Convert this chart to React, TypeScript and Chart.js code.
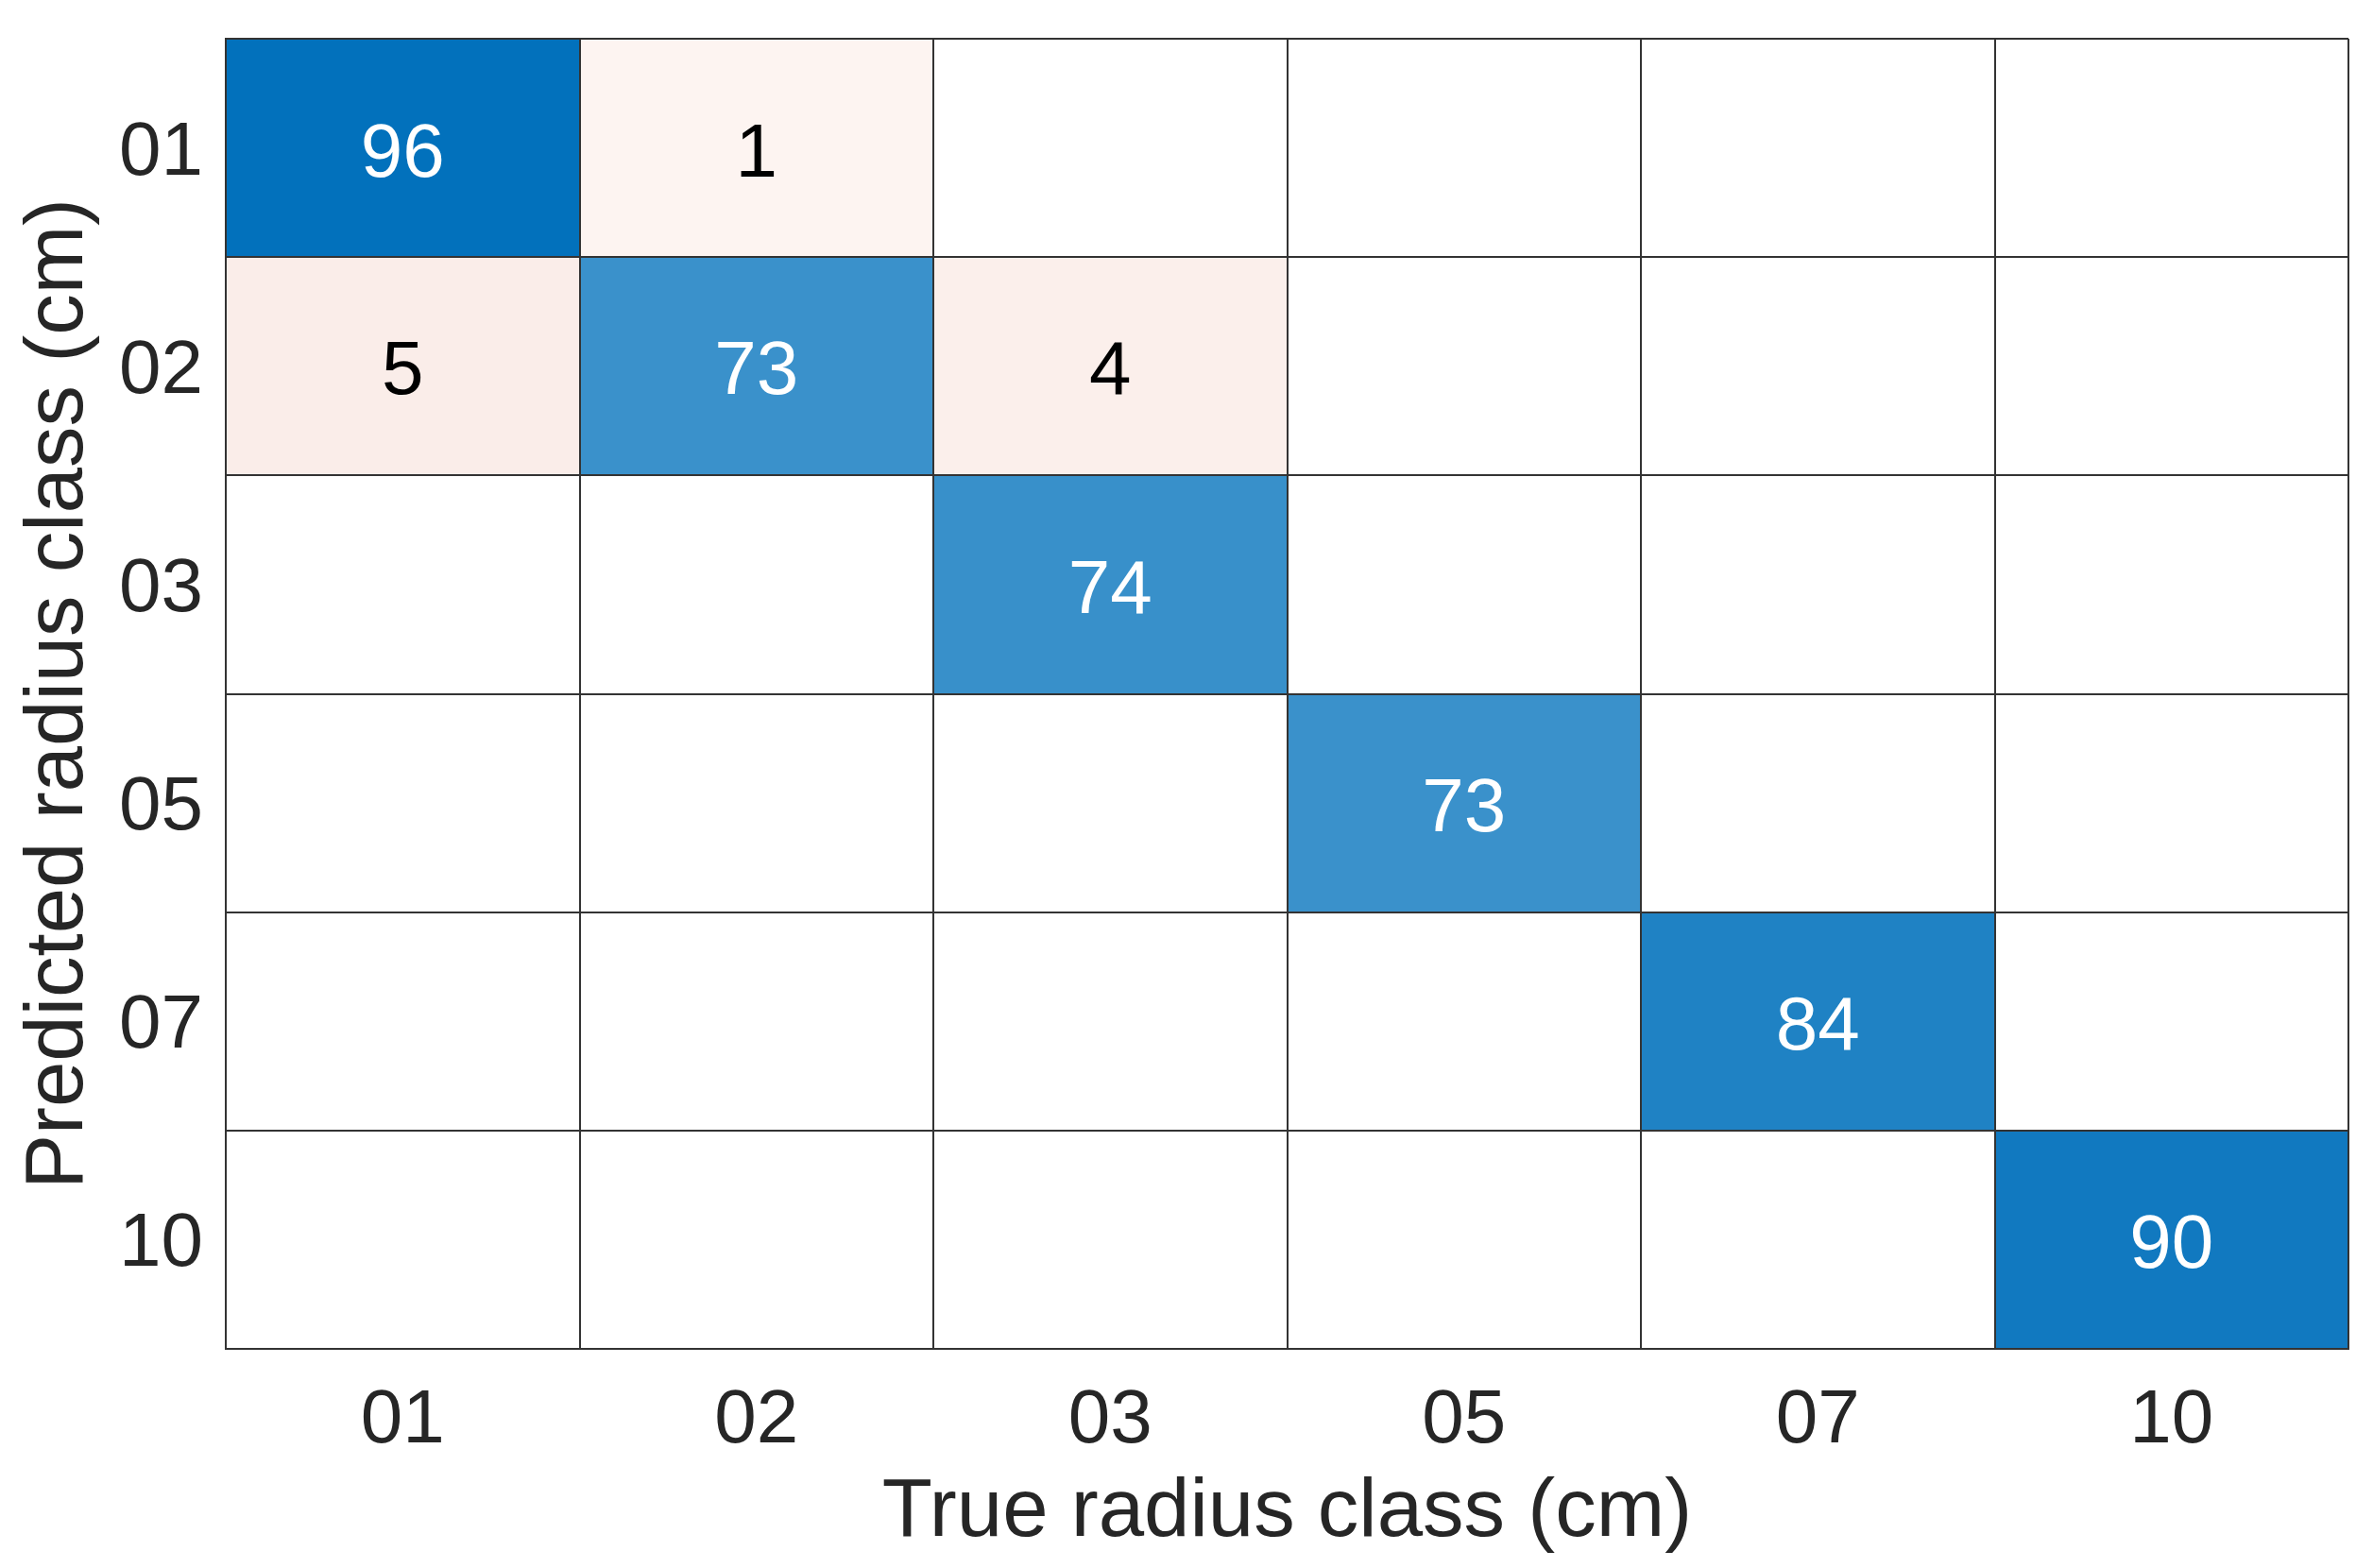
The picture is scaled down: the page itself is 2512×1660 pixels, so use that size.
import { useEffect, useRef } from "react";
import { Chart, registerables } from "chart.js";

Chart.register(...registerables);

const FONT = '"Liberation Sans", Arial, Helvetica, sans-serif';

// Categories
const trueLabels = ["01", "02", "03", "05", "07", "10"];
const predLabels = ["01", "02", "03", "05", "07", "10"];

// Confusion matrix rows (predicted class) x columns (true class)
const pred01 = [96, 1, 0, 0, 0, 0];
const pred02 = [5, 73, 4, 0, 0, 0];
const pred03 = [0, 0, 74, 0, 0, 0];
const pred05 = [0, 0, 0, 73, 0, 0];
const pred07 = [0, 0, 0, 0, 84, 0];
const pred10 = [0, 0, 0, 0, 0, 90];
const matrixRows = [pred01, pred02, pred03, pred05, pred07, pred10];

// Colour map stops: [value, r, g, b]
const colorStops: number[][] = [
  [1, 253, 244, 241],
  [5, 250, 237, 233],
  [73, 58, 145, 203],
  [96, 2, 113, 188],
];

function cellColor(v: number): string {
  if (v <= 0) return "#ffffff";
  if (v <= colorStops[0][0]) {
    const s = colorStops[0];
    return `rgb(${s[1]},${s[2]},${s[3]})`;
  }
  for (let i = 1; i < colorStops.length; i++) {
    const a = colorStops[i - 1];
    const b = colorStops[i];
    if (v <= b[0]) {
      const t = (v - a[0]) / (b[0] - a[0]);
      const c = [1, 2, 3].map((k) => Math.round(a[k] + (b[k] - a[k]) * t));
      return `rgb(${c[0]},${c[1]},${c[2]})`;
    }
  }
  const s = colorStops[colorStops.length - 1];
  return `rgb(${s[1]},${s[2]},${s[3]})`;
}

const ANN_SIZE = 80;
// small downward nudge (in rows) so the 'middle'-baseline row labels sit on the row centres
const ROW_LABEL_NUDGE = 0.026;

const cellText = {
  id: "cellText",
  afterDatasetsDraw(chart: any) {
    const ctx = chart.ctx;
    ctx.save();
    ctx.font = `${ANN_SIZE}px ${FONT}`;
    ctx.textAlign = "center";
    ctx.textBaseline = "alphabetic";
    chart.data.datasets.forEach((_ds: any, di: number) => {
      const meta = chart.getDatasetMeta(di);
      meta.data.forEach((bar: any, ci: number) => {
        const v = matrixRows[di][ci];
        if (!v) return;
        const { x, y, base } = bar.getProps(["x", "y", "base"], true);
        const cy = (y + base) / 2;
        ctx.fillStyle = v > 50 ? "#ffffff" : "#000000";
        ctx.fillText(String(v), x, cy + 0.358 * ANN_SIZE + 1);
      });
    });
    ctx.restore();
  },
};

function noPad(s: any) {
  s.paddingTop = 0;
  s.paddingBottom = 0;
  s.paddingLeft = 0;
  s.paddingRight = 0;
}

export default function App() {
  const ref = useRef<HTMLCanvasElement | null>(null);

  useEffect(() => {
    document.body.style.margin = "0";
    const canvas = ref.current;
    if (!canvas) return;

    const datasets = matrixRows.map((row, r) => ({
      label: predLabels[r],
      data: row.map(() => [r, r + 1]),
      backgroundColor: row.map((v) => cellColor(v)),
      borderWidth: 0,
      barPercentage: 1,
      categoryPercentage: 1,
      grouped: false,
    }));

    const chart = new Chart(canvas, {
      type: "bar",
      data: { labels: trueLabels, datasets: datasets as any },
      plugins: [cellText],
      options: {
        responsive: false,
        animation: false,
        events: [],
        layout: { padding: { top: 41, right: 26, left: 0, bottom: 0 } },
        plugins: {
          legend: { display: false },
          tooltip: { enabled: false },
        },
        scales: {
          x: {
            type: "category",
            offset: true,
            grid: { offset: true, color: "#333333", lineWidth: 2, drawTicks: false, z: 1 },
            border: { display: true, color: "#333333", width: 2, z: 1 },
            ticks: {
              font: { size: 80, family: FONT },
              color: "#262626",
              padding: 29,
              maxRotation: 0,
              autoSkip: false,
            },
            title: {
              display: true,
              text: "True radius class (cm)",
              font: { size: 87, family: FONT },
              color: "#262626",
              padding: { top: 0, bottom: 6 },
            },
            afterFit: (s: any) => {
              s.height = 1660 - 1428;
              noPad(s);
            },
          },
          y: {
            type: "linear",
            min: 0,
            max: 6,
            reverse: true,
            ticks: { display: false, stepSize: 1 },
            grid: { color: "#333333", lineWidth: 2, drawTicks: false, z: 1 },
            border: { display: true, color: "#333333", width: 2, z: 1 },
            afterFit: (s: any) => {
              s.width = 0;
              noPad(s);
            },
          },
          yl: {
            type: "linear",
            axis: "y",
            position: "left",
            reverse: true,
            min: -0.5 - ROW_LABEL_NUDGE,
            max: predLabels.length - 0.5 - ROW_LABEL_NUDGE,
            afterBuildTicks: (s: any) => {
              s.ticks = predLabels.map((_l, i) => ({ value: i }));
            },
            grid: { display: false, drawTicks: false },
            border: { display: false },
            ticks: {
              font: { size: 80, family: FONT },
              color: "#262626",
              padding: 24,
              autoSkip: false,
              callback: (v: any) => predLabels[Math.round(Number(v))] ?? "",
            },
            title: {
              display: true,
              text: "Predicted radius class (cm)",
              font: { size: 87, family: FONT },
              color: "#262626",
              padding: { top: 11, bottom: 0 },
            },
            afterFit: (s: any) => {
              s.width = 239;
              noPad(s);
            },
          },
        } as any,
      },
    });

    return () => chart.destroy();
  }, []);

  return (
    <div style={{ width: 2512, height: 1660, background: "#ffffff" }}>
      <canvas ref={ref} width={2512} height={1660} style={{ display: "block" }} />
    </div>
  );
}
